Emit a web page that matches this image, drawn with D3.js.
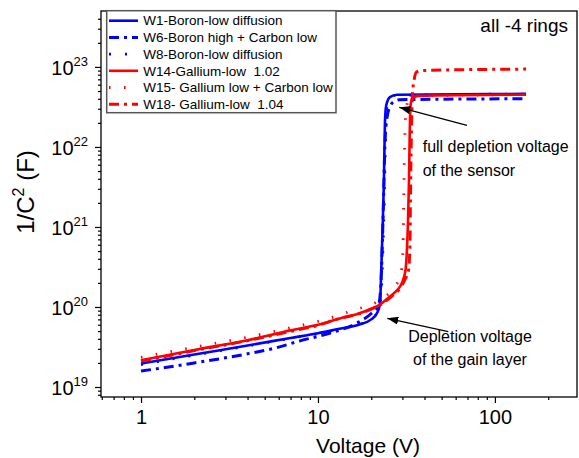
<!DOCTYPE html>
<html>
<head>
<meta charset="utf-8">
<script src="https://cdn.jsdelivr.net/npm/d3@7"></script>
<style>
  body { margin: 0; background: #fff; }
  svg { display: block; font-family: "Liberation Sans", Arial, sans-serif; }
</style>
</head>
<body>
<svg id="chart"></svg>
<script>
// [voltage (V), 1/C^2 (F^-2)]
const w1 = [[1, 1.96e19], [2, 2.55e19], [4, 3.3e19], [7, 4.1e19], [10, 4.7e19], [13, 5.3e19],
  [17, 6.0e19], [20, 7.0e19], [21.5, 8.3e19], [22.4, 1.07e20], [22.8, 3e20], [23.2, 1e21],
  [23.6, 4e21], [23.9, 2e22], [24.3, 3.3e22], [25.5, 4.2e22], [28, 4.5e22], [150, 4.6e22]];
const w6 = [[1, 1.58e19], [2, 2.0e19], [4, 2.6e19], [6, 3.15e19], [8, 3.8e19], [10, 4.3e19],
  [12, 4.8e19], [16.6, 6.3e19], [20, 8.3e19], [22, 1.05e20], [22.7, 2e20], [23.1, 6e20],
  [23.5, 2.5e21], [23.8, 8e21], [24.2, 1.8e22], [25.5, 3.2e22], [27.5, 3.8e22], [29, 3.9e22], [150, 4.0e22]];
const w8 = [[1, 1.9e19], [2, 2.5e19], [4, 3.25e19], [7, 4.05e19], [10, 4.65e19], [13, 5.25e19],
  [17, 6.0e19], [20, 7.2e19], [22, 9e19], [22.8, 1.5e20], [23.3, 5e20], [23.7, 2e21],
  [24, 8e21], [24.3, 2.5e22], [25, 3.8e22], [27, 4.4e22], [150, 4.6e22]];
const w14 = [[1, 2.16e19], [2, 2.9e19], [4, 3.85e19], [7, 5.1e19], [10, 6.0e19], [13.3, 7.2e19],
  [17, 8.3e19], [20, 9.5e19], [22.4, 1.07e20], [25, 1.3e20], [27, 1.5e20], [29, 1.78e20],
  [30.5, 2.3e20], [31.3, 3.0e20], [31.8, 5e20], [32.3, 1.3e21], [32.7, 4e21], [33, 1.5e22],
  [33.3, 3.2e22], [34, 4.0e22], [36.5, 4.35e22], [150, 4.5e22]];
const w15 = [[1, 2.35e19], [2, 3.15e19], [4, 4.2e19], [7, 5.5e19], [10, 6.6e19], [13, 7.8e19],
  [16, 9.2e19], [20, 1.07e20], [24, 1.35e20], [27.2, 1.8e20], [29.3, 2.5e20], [30.2, 5e20],
  [30.5, 2e21], [30.8, 8e21], [31.3, 2.5e22], [32.5, 3.9e22], [35, 4.35e22], [150, 4.5e22]];
const w18 = [[1, 2.1e19], [2, 2.85e19], [4, 3.8e19], [7, 4.95e19], [10, 5.9e19], [13, 7.1e19],
  [17, 8.2e19], [20, 9.4e19], [23, 1.1e20], [26, 1.35e20], [29, 1.7e20], [31, 2.2e20],
  [32.5, 2.9e20], [33.1, 6e20], [33.3, 2e21], [33.5, 6e21], [33.8, 2e22], [34.2, 4.5e22],
  [35, 7e22], [36, 8.6e22], [38, 9e22], [150, 9.4e22]];

const seriesNames = ["W1-Boron-low diffusion", "W6-Boron high + Carbon low", "W8-Boron-low diffusion",
  "W14-Gallium-low  1.02", "W15- Gallium low + Carbon low", "W18- Gallium-low  1.04"];

const xTicks = [1, 10, 100];
const xTickLabels = ["1", "10", "100"];
const xMinor = [0.6, 0.7, 0.8, 0.9, 2, 3, 4, 5, 6, 7, 8, 9, 20, 30, 40, 50, 60, 70, 80, 90, 200];
const yTicks = [1e19, 1e20, 1e21, 1e22, 1e23];
const yExponents = ["19", "20", "21", "22", "23"];

const w = 579;
const h = 458;
const m = { top: 11, right: 2, bottom: 61, left: 101 };

const svg = d3.select("#chart").attr("width", w).attr("height", h);

const x = d3.scaleLog().domain([0.594, 291]).range([m.left, w - m.right]);
const y = d3.scaleLog().domain([7.5e18, 5e23]).range([h - m.bottom, m.top]);

const yMinor = [];
for (let e = 18; e <= 23; e++) {
  for (let k = 2; k <= 9; k++) {
    const v = k * Math.pow(10, e);
    if (v >= 7.5e18 && v <= 5e23) yMinor.push(v);
  }
}

// styles per series
const styles = [
  { color: "#0000ff", dash: null, width: 2.6 },
  { color: "#0000ff", dash: "10 5 3 5", width: 3 },
  { color: "#0000ff", dash: "2 14", width: 2.6 },
  { color: "#ff0000", dash: null, width: 2.6 },
  { color: "#ff0000", dash: "1.5 13.5", width: 2.8 },
  { color: "#ff0000", dash: "10 5 3 5", width: 3 }
];
const allSeries = [w1, w6, w8, w14, w15, w18];

// minor ticks
svg.append("g")
  .attr("transform", `translate(0, ${h - m.bottom})`)
  .call(d3.axisBottom(x).tickValues(xMinor).tickSize(3).tickFormat(""))
  .call((g) => g.select(".domain").remove());
svg.append("g")
  .attr("transform", `translate(${m.left}, 0)`)
  .call(d3.axisLeft(y).tickValues(yMinor).tickSize(3).tickFormat(""))
  .call((g) => g.select(".domain").remove());

// major ticks
svg.append("g")
  .attr("id", "x-axis")
  .attr("transform", `translate(0, ${h - m.bottom})`)
  .call(d3.axisBottom(x).tickValues(xTicks).tickSize(6).tickPadding(7)
    .tickFormat((d, i) => xTickLabels[i]))
  .call((g) => g.select(".domain").remove())
  .call((g) => g.selectAll("text").attr("font-size", 20).attr("font-family", null).attr("fill", "#000"));

const yAxis = svg.append("g")
  .attr("id", "y-axis")
  .attr("transform", `translate(${m.left}, 0)`)
  .call(d3.axisLeft(y).tickValues(yTicks).tickSize(6).tickFormat(""))
  .call((g) => g.select(".domain").remove());

yAxis.selectAll(".tick").each(function (d, i) {
  const t = d3.select(this).append("text")
    .attr("x", -13)
    .attr("y", 7.5)
    .attr("text-anchor", "end")
    .attr("fill", "#000");
  t.append("tspan").attr("font-size", 20).text("10");
  t.append("tspan").attr("font-size", 13).attr("dy", -9).text(yExponents[i]);
});

svg.selectAll(".tick line").attr("stroke", "#000").attr("stroke-width", 1.2);

// frame
svg.append("rect")
  .attr("x", m.left)
  .attr("y", m.top)
  .attr("width", w - m.left - m.right)
  .attr("height", h - m.top - m.bottom)
  .attr("fill", "none")
  .attr("stroke", "#000")
  .attr("stroke-width", 1.3);

// curves
const line = d3.line()
  .x((d) => x(d[0]))
  .y((d) => y(d[1]))
  .curve(d3.curveMonotoneX);

svg.append("g")
  .selectAll("path")
  .data(allSeries)
  .enter()
  .append("path")
  .attr("d", line)
  .attr("fill", "none")
  .attr("stroke", (d, i) => styles[i].color)
  .attr("stroke-width", (d, i) => styles[i].width)
  .attr("stroke-dasharray", (d, i) => styles[i].dash);

// legend
const legend = svg.append("g");
legend.append("rect")
  .attr("x", 106.7)
  .attr("y", 10.7)
  .attr("width", 229.3)
  .attr("height", 102)
  .attr("fill", "#fff")
  .attr("stroke", "#555")
  .attr("stroke-width", 1.5);

const entries = legend.selectAll("g.entry")
  .data(seriesNames)
  .enter()
  .append("g")
  .attr("class", "entry")
  .attr("transform", (d, i) => `translate(0, ${20.7 + i * 16.7})`);

entries.append("line")
  .attr("x1", 109)
  .attr("x2", 138)
  .attr("stroke", (d, i) => styles[i].color)
  .attr("stroke-width", (d, i) => styles[i].width)
  .attr("stroke-dasharray", (d, i) => styles[i].dash);

entries.append("text")
  .attr("x", 143.3)
  .attr("y", 4.7)
  .attr("font-size", 13.5)
  .attr("fill", "#000")
  .style("white-space", "pre")
  .text((d) => d);

// labels
svg.append("text")
  .attr("x", 568)
  .attr("y", 31.7)
  .attr("text-anchor", "end")
  .attr("font-size", 19)
  .style("white-space", "pre")
  .text("all -4 rings");

svg.append("text")
  .attr("x", 368)
  .attr("y", 453)
  .attr("text-anchor", "middle")
  .attr("font-size", 21)
  .text("Voltage (V)");

const yl = svg.append("text")
  .attr("transform", "translate(34, 192) rotate(-90)")
  .attr("text-anchor", "middle")
  .attr("font-size", 24)
  .style("white-space", "pre");
yl.append("tspan").text("1/C");
yl.append("tspan").attr("font-size", 16).attr("dy", -10).text("2");
yl.append("tspan").attr("dy", 10).text(" (F)");

// annotations
svg.append("defs").append("marker")
  .attr("id", "head")
  .attr("markerUnits", "userSpaceOnUse")
  .attr("markerWidth", 12)
  .attr("markerHeight", 8)
  .attr("refX", 11)
  .attr("refY", 4)
  .attr("orient", "auto")
  .append("path")
  .attr("d", "M0,0 L11,4 L0,8 Z")
  .attr("fill", "#000");

const arrows = [[467, 125.3, 399.3, 107.3], [448.3, 331.7, 387.3, 318.3]];
svg.selectAll("line.arrow")
  .data(arrows)
  .enter()
  .append("line")
  .attr("class", "arrow")
  .attr("x1", (d) => d[0])
  .attr("y1", (d) => d[1])
  .attr("x2", (d) => d[2])
  .attr("y2", (d) => d[3])
  .attr("stroke", "#000")
  .attr("stroke-width", 1.2)
  .attr("marker-end", "url(#head)");

const notes = [
  ["full depletion voltage", 422.7, 151.7, "start"],
  ["of the sensor", 422.7, 175.7, "start"],
  ["Depletion voltage", 470, 341.7, "middle"],
  ["of the gain layer", 470, 365, "middle"]
];
svg.selectAll("text.note")
  .data(notes)
  .enter()
  .append("text")
  .attr("class", "note")
  .attr("x", (d) => d[1])
  .attr("y", (d) => d[2])
  .attr("text-anchor", (d) => d[3])
  .attr("font-size", 16)
  .text((d) => d[0]);
</script>
</body>
</html>
